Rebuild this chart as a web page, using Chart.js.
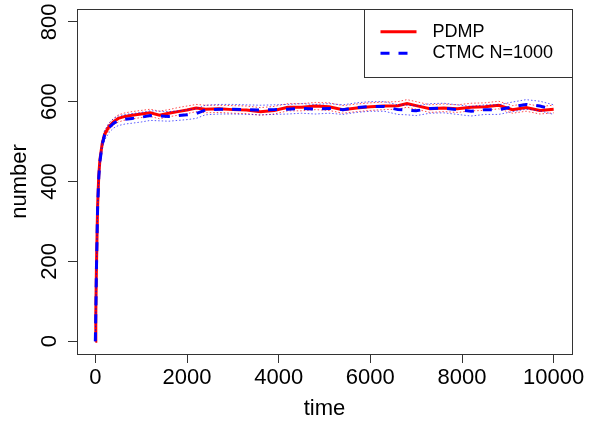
<!DOCTYPE html>
<html>
<head>
<meta charset="utf-8">
<script src="https://cdn.jsdelivr.net/npm/chart.js@4"></script>
<style>
  html, body { margin: 0; padding: 0; background: #fff; }
  #wrap { width: 597px; height: 423px; }
</style>
</head>
<body>
<div id="wrap"><canvas id="chart" width="597" height="423"></canvas></div>
<script>
// data
const times = [0, 10, 25, 50, 75, 100, 150, 200, 300, 400, 500, 650, 800, 1000, 1200, 1400, 1600, 1800, 2000, 2200,
    2400, 2700, 3000, 3300, 3600, 3900, 4200, 4500, 4800, 5100, 5400, 5700, 6000, 6300, 6600, 6800, 7000, 7300,
    7600, 7900, 8200, 8500, 8800, 9100, 9400, 9700, 10000];

const pdmp = [0, 70, 190, 340, 415, 455, 495, 518, 538, 550, 558, 563, 566, 569, 572, 566, 571, 575, 579, 584,
    581, 582, 580, 579, 575, 578, 586, 586, 589, 587, 580, 584, 587, 589, 590, 595, 590, 582,
    584, 582, 586, 587, 591, 580, 585, 578, 581];
const pdmpHi = [0, 74, 196, 347, 423, 463, 503, 526, 546, 558, 567, 572, 575, 578, 581, 576, 580, 585, 589, 593,
    591, 591, 590, 589, 585, 588, 595, 595, 598, 597, 590, 594, 597, 599, 600, 605, 600, 592,
    594, 592, 596, 597, 601, 590, 595, 588, 591];
const pdmpLo = [0, 66, 184, 333, 407, 447, 487, 510, 530, 542, 549, 554, 557, 560, 563, 557, 562, 566, 570, 575,
    572, 573, 571, 570, 566, 569, 577, 577, 580, 578, 571, 575, 578, 580, 581, 586, 581, 573,
    575, 573, 577, 578, 582, 571, 576, 569, 572];

const ctmc = [0, 65, 185, 335, 410, 450, 492, 515, 535, 546, 552, 556, 558, 561, 565, 564, 563, 565, 567, 570,
    579, 581, 581, 580, 579, 580, 581, 583, 581, 583, 580, 585, 588, 588, 580, 579, 577, 583,
    584, 580, 576, 580, 580, 587, 593, 589, 580];
const ctmcHi = [0, 70, 192, 344, 421, 461, 504, 527, 547, 558, 564, 568, 570, 573, 577, 576, 575, 577, 579, 582,
    591, 593, 593, 592, 591, 592, 593, 595, 593, 595, 592, 597, 600, 600, 592, 591, 589, 595,
    596, 592, 588, 592, 592, 599, 605, 601, 592];
const ctmcLo = [0, 60, 178, 326, 399, 439, 480, 503, 523, 534, 540, 544, 546, 549, 553, 552, 551, 553, 555, 558,
    567, 569, 569, 568, 567, 568, 569, 571, 569, 571, 568, 573, 576, 576, 568, 567, 565, 571,
    572, 568, 564, 568, 568, 575, 581, 577, 568];

const xTicks = [0, 2000, 4000, 6000, 8000, 10000];
const yTicks = [0, 200, 400, 600, 800];

const pts = (ys) => times.map((t, i) => ({ x: t, y: ys[i] }));

Chart.defaults.font.family = "'Liberation Sans', Arial, sans-serif";
Chart.defaults.color = "#000";

// box round the plot and the legend, R style
const frame = {
    id: "frame",
    afterDatasetsDraw(chart) {
        const { ctx, chartArea: a } = chart;
        ctx.save();
        ctx.strokeStyle = "#333";
        ctx.lineWidth = 1;
        ctx.strokeRect(Math.round(a.left) + 0.5, Math.round(a.top) + 0.5,
            Math.round(a.right - a.left), Math.round(a.bottom - a.top));
        ctx.restore();
    },
    afterDraw(chart) {
        const { ctx, chartArea: a } = chart;
        const items = chart.data.datasets.filter((d) => d.inLegend);
        const bx = a.right - 208, by = a.top, bw = 208, bh = 68;
        ctx.save();
        ctx.fillStyle = "#fff";
        ctx.fillRect(bx, by, bw, bh);
        ctx.strokeStyle = "#333";
        ctx.lineWidth = 1;
        ctx.strokeRect(Math.round(bx) + 0.5, Math.round(by) + 0.5, bw, bh);
        ctx.font = "18px 'Liberation Sans', Arial, sans-serif";
        ctx.textBaseline = "middle";
        ctx.fillStyle = "#000";
        items.forEach((d, i) => {
            const y = by + 22.7 + i * 21.6;
            ctx.beginPath();
            ctx.strokeStyle = d.borderColor;
            ctx.lineWidth = d.borderWidth;
            ctx.setLineDash(d.borderDash || []);
            ctx.moveTo(bx + 16.5, y);
            ctx.lineTo(bx + 52.5, y);
            ctx.stroke();
            ctx.setLineDash([]);
            ctx.fillText(d.label, bx + 68.5, y);
        });
        ctx.restore();
    },
};

const line = (label, ys, color, width, dash, order, inLegend) => ({
    label, data: pts(ys), borderColor: color, borderWidth: width, borderDash: dash,
    pointRadius: 0, tension: 0, fill: false, order, inLegend,
});

new Chart(document.querySelector("#chart"), {
    type: "line",
    data: {
        datasets: [
            line("PDMP", pdmp, "#ff0000", 3, [], 3, true),
            line("CTMC N=1000", ctmc, "#0000ff", 3, [9, 9], 1, true),
            line("PDMP upper", pdmpHi, "rgba(255,0,0,0.7)", 1, [1.5, 2], 4, false),
            line("PDMP lower", pdmpLo, "rgba(255,0,0,0.7)", 1, [1.5, 2], 4, false),
            line("CTMC upper", ctmcHi, "rgba(0,0,255,0.65)", 1, [1.5, 2], 2, false),
            line("CTMC lower", ctmcLo, "rgba(0,0,255,0.65)", 1, [1.5, 2], 2, false),
        ],
    },
    options: {
        responsive: false,
        animation: false,
        layout: { padding: { top: 9, right: 25, bottom: 0, left: 0 } },
        plugins: { legend: { display: false }, tooltip: { enabled: false } },
        scales: {
            x: {
                type: "linear",
                min: -400,
                max: 10400,
                afterBuildTicks: (s) => { s.ticks = xTicks.map((v) => ({ value: v })); },
                afterFit: (s) => { s.height = 69; s.paddingLeft = 0; s.paddingRight = 0; },
                grid: { drawOnChartArea: false, tickLength: 9, tickColor: "#333" },
                border: { display: false },
                ticks: { font: { size: 22 }, padding: 2, maxRotation: 0, autoSkip: false, callback: (v) => String(v) },
                title: { display: true, text: "time", font: { size: 22 }, padding: { top: 0, bottom: 1 } },
            },
            y: {
                min: -32,
                max: 832,
                afterBuildTicks: (s) => { s.ticks = yTicks.map((v) => ({ value: v })); },
                afterFit: (s) => { s.width = 77; s.paddingTop = 0; s.paddingBottom = 0; },
                grid: { drawOnChartArea: false, tickLength: 9, tickColor: "#333" },
                border: { display: false },
                ticks: { font: { size: 22 }, padding: 0, minRotation: 90, maxRotation: 90, crossAlign: "center", callback: (v) => String(v) },
                title: { display: true, text: "number", font: { size: 22 }, padding: { top: 7, bottom: 0 } },
            },
        },
    },
    plugins: [frame],
});
</script>
</body>
</html>
